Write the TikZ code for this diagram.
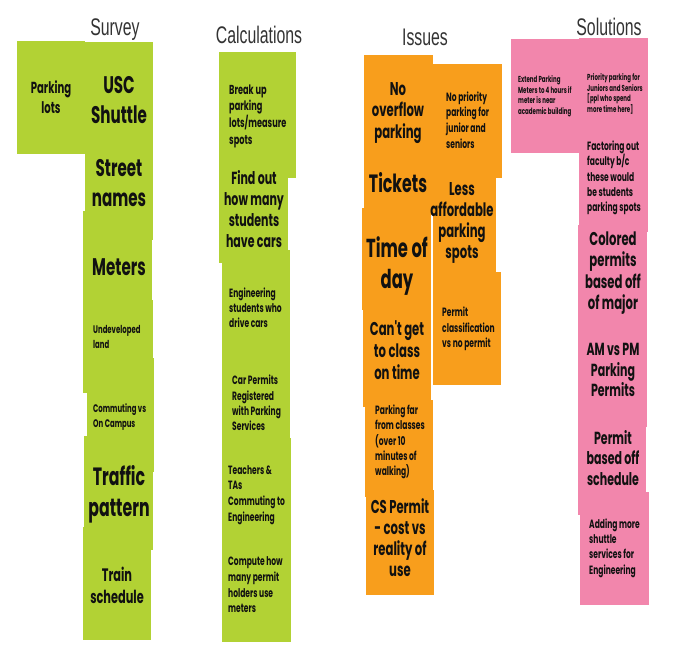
\documentclass[tikz,border=0pt]{standalone}
\usepackage{fontspec}
\newfontfamily\stkfont{Poppins}[FakeStretch=0.63]
\newfontfamily\ttlfont{Liberation Sans}[FakeStretch=0.66]
\definecolor{limeC}{HTML}{B2D234}
\definecolor{orangeC}{HTML}{F89E1C}
\definecolor{pinkC}{HTML}{F286AC}
\definecolor{inkC}{HTML}{111111}
\definecolor{titleC}{HTML}{333333}
\tikzset{
  grn/.style={fill=limeC},
  org/.style={fill=orangeC},
  pnk/.style={fill=pinkC},
  lbl/.style={inner sep=0pt, text=inkC},
  sz/.style 2 args={font=\stkfont\bfseries\fontsize{#1}{#2}\selectfont},
  ctr/.style={lbl, align=center},
  lft/.style={lbl, align=left, anchor=west},
  ttl/.style={inner sep=0pt, text=titleC, font=\ttlfont\fontsize{24}{28}\selectfont},
}
\begin{document}
\begin{tikzpicture}[x=1pt,y=-1pt]
\useasboundingbox[fill=white] (0,0) rectangle (699,650);

% ---------- Survey ----------
\fill[grn] (17,41) rectangle (85,154);
\fill[grn] (85,42) rectangle (153,154);
\fill[grn] (85,140) rectangle (153,240);
\fill[grn] (83,211) rectangle (152,310);
\fill[grn] (83,300) rectangle (153,393);
\fill[grn] (87,358) rectangle (154,472);
\fill[grn] (84,436) rectangle (153,550);
\fill[grn] (83,527) rectangle (151,640);

\node[ttl] (tsurvey) at (115,30) {Survey};
\node[ctr, sz={16}{20}] (park) at (51,97) {Parking\\lots};
\node[ctr, sz={24}{30}] (usc) at (119,100) {USC\\Shuttle};
\node[ctr, sz={24}{30}] (street) at (119,183) {Street\\names};
\node[ctr, sz={24}{30}] (meters) at (119,267) {Meters};
\node[lft, sz={11}{15}] (undev) at (93,337) {Undeveloped\\land};
\node[lft, sz={11}{15}] (comm) at (93,417) {Commuting vs\\On Campus};
\node[ctr, sz={25}{31}] (traffic) at (119,494) {Traffic\\pattern};
\node[ctr, sz={18}{22}] (train) at (117,585) {Train\\schedule};

% ---------- Calculations ----------
\fill[grn] (219,52) rectangle (296,178);
\fill[grn] (219,170) rectangle (288,263);
\fill[grn] (222,250) rectangle (290,350);
\fill[grn] (222,340) rectangle (290,438);
\fill[grn] (222,438) rectangle (291,545);
\fill[grn] (222,540) rectangle (291,642);

\node[ttl] (tcalc) at (259,35) {Calculations};
\node[lft, sz={13}{16.7}] (breakup) at (229,116) {Break up\\parking\\lots/measure\\spots};
\node[ctr, sz={17.5}{21}] (findout) at (254,209) {Find out\\how many\\students\\have cars};
\node[lft, sz={12}{15}] (engst) at (229,308) {Engineering\\students who\\drive cars};
\node[lft, sz={12}{15.3}] (carperm) at (232,403) {Car Permits\\Registered\\with Parking\\Services};
\node[lft, sz={12}{15.6}] (teach) at (228,495) {Teachers \&\\TAs\\Commuting to\\Engineering};
\node[lft, sz={12}{15.6}] (compute) at (228,585) {Compute how\\many permit\\holders use\\meters};

% ---------- Issues ----------
\fill[org] (364,55) rectangle (433,150);
\fill[org] (364,145) rectangle (433,215);
\fill[org] (362,208) rectangle (431,310);
\fill[org] (363,300) rectangle (431,407);
\fill[org] (365,400) rectangle (433,497);
\fill[org] (366,490) rectangle (434,595);
\fill[org] (433,64) rectangle (502,178);
\fill[org] (433,170) rectangle (496,278);
\fill[org] (433,272) rectangle (501,385);

\node[ttl] (tissues) at (425,37) {Issues};
\node[ctr, sz={18.5}{21.7}] (noover) at (398,113) {No\\overflow\\parking};
\node[ctr, sz={25}{30}] (tickets) at (398,183) {Tickets};
\node[ctr, sz={26}{31.7}] (timeday) at (397,266) {Time of\\day};
\node[ctr, sz={18.5}{21.7}] (cantget) at (397,350) {Can't get\\to class\\on time};
\node[lft, sz={12}{15.3}] (farcl) at (375,442) {Parking far\\from classes\\(over 10\\minutes of\\walking)};
\node[ctr, sz={18.5}{21}] (cspermit) at (400,538) {CS Permit\\- cost vs\\reality of\\use};
\node[lft, sz={12}{15.7}] (noprio) at (446,120) {No priority\\parking for\\junior and\\seniors};
\node[ctr, sz={18.5}{21}] (lessaff) at (462,223) {Less\\affordable\\parking\\spots};
\node[lft, sz={12}{15.5}] (permcl) at (442,329) {Permit\\classification\\vs no permit};

% ---------- Solutions ----------
\fill[pnk] (511,39) rectangle (579,153);
\fill[pnk] (579,38) rectangle (648,150);
\fill[pnk] (579,140) rectangle (648,232);
\fill[pnk] (578,225) rectangle (647,330);
\fill[pnk] (578,320) rectangle (647,427);
\fill[pnk] (578,420) rectangle (646,515);
\fill[pnk] (580,492) rectangle (649,605);

\node[ttl] (tsol) at (609,27) {Solutions};
\node[lft, sz={8.7}{10.5}] (extend) at (518,96) {Extend Parking\\Meters to 4 hours if\\meter is near\\academic building};
\node[lft, sz={8.7}{10.8}] (priojs) at (587,94) {Priority parking for\\Juniors and Seniors\\{}[ppl who spend\\more time here]};
\node[lft, sz={12}{15.3}] (factor) at (587,178) {Factoring out\\faculty b/c\\these would\\be students\\parking spots};
\node[ctr, sz={18.5}{21.5}] (colored) at (613,273) {Colored\\permits\\based off\\of major};
\node[ctr, sz={17.5}{20.3}] (ampm) at (613,370) {AM vs PM\\Parking\\Permits};
\node[ctr, sz={17.5}{20.5}] (pbased) at (613,458) {Permit\\based off\\schedule};
\node[lft, sz={12}{15.3}] (addshut) at (589,548) {Adding more\\shuttle\\services for\\Engineering};
\end{tikzpicture}
\end{document}
